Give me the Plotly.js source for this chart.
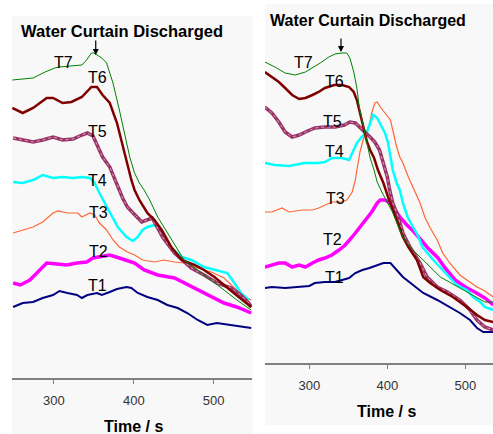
<!DOCTYPE html>
<html>
<head>
<meta charset="utf-8">
<script src="https://cdn.plot.ly/plotly-3.0.1.min.js"></script>
<style>html,body{margin:0;padding:0;background:#fff;}#chart{width:493px;height:434px;}</style>
</head>
<body>
<div id="chart"></div>
<script>
// ---- Data: left panel (temperature traces, arbitrary units vs time / s) ----
const seriesNames = ["T1","T2","T3","T4","T5","T6","T7"];
const tickVals = [300, 400, 500];

const L_T7_t = [248,260,274,289,301,307,322,335,341,347,350,354,360,366,374,382,389,395,401,407,413,420,430,442,455,463,480,497,513,529,544,547];
const L_T7_v = [298,299,300,306,310,311,312,313,318,325,325,323,320,315,295,268,241,221,205,195,188,178,161,145,128,118,108,98,88,78,70,68];
const L_T6_t = [248,261,274,291,299,311,322,335,347,354,361,370,379,385,391,397,401,407,417,426,435,447,460,476,488,501,513,526,536,547];
const L_T6_v = [270,265,270,280,280,275,276,281,291,291,283,275,255,235,218,198,188,178,165,158,148,131,118,113,108,101,93,85,78,71];
const L_T5_t = [249,261,274,286,299,311,324,335,342,349,355,361,370,379,386,392,400,404,410,416,423,428,436,451,472,488,504,522,534,544,547];
const L_T5_v = [240,238,236,238,241,238,239,243,245,242,231,221,211,193,180,171,165,161,156,158,160,153,141,125,110,103,95,90,83,75,71];
const L_T4_t = [249,261,274,286,299,311,324,335,345,351,357,364,370,380,391,399,405,411,417,426,435,447,460,472,488,504,517,526,534,544];
const L_T4_v = [196,195,198,203,200,201,200,201,200,195,185,175,165,151,141,137,141,148,151,153,145,130,121,118,111,108,105,95,85,78];
const L_T3_t = [249,261,274,286,299,305,317,330,335,345,351,357,366,374,382,392,401,411,426,438,451,463,480,497,513,526,538,547];
const L_T3_v = [145,148,151,156,165,167,165,165,161,165,163,155,148,138,131,126,123,118,116,118,116,115,110,106,100,90,81,78];
const L_T2_t = [249,258,270,283,291,304,316,329,341,349,357,370,382,391,401,413,430,451,463,480,497,513,529,544,547];
const L_T2_v = [95,93,98,108,115,114,113,115,116,120,121,123,120,118,115,108,103,100,95,88,81,75,71,66,65];
const L_T1_t = [249,261,274,286,299,307,317,329,335,342,354,360,370,379,391,397,405,417,430,442,455,467,480,492,504,522,534,547];
const L_T1_v = [71,75,76,80,83,87,85,83,80,83,85,83,86,89,91,90,85,81,78,73,70,65,58,53,55,53,51,50];

// ---- Data: right panel ----
const R_T7_t = [243,256,269,282,295,304,314,325,333,342,348,352,357,361,364,369,374,378,383,387,393,400,406,412,420,429,438,451,468,484,502,515,525,536];
const R_T7_v = [301,296,290,288,291,295,300,306,309,310,310,305,291,275,256,238,218,205,193,181,171,161,152,141,126,116,109,99,86,79,71,65,61,61];
const R_T6_t = [243,252,261,269,278,287,295,304,312,320,332,342,351,357,361,365,370,374,378,383,388,395,401,407,414,420,427,438,446,455,468,484,502,515,525,536];
const R_T6_v = [291,286,281,275,268,264,265,268,271,275,278,278,276,271,263,250,233,221,213,205,193,180,166,153,140,126,116,103,86,80,73,66,56,48,43,41];
const R_T5_t = [243,252,261,269,278,287,295,307,320,333,345,352,359,365,371,378,384,390,394,400,403,407,414,420,429,442,451,464,477,493,506,515,525,536];
const R_T5_v = [256,250,241,231,226,228,231,235,236,236,238,241,240,236,231,226,221,213,203,186,173,160,146,130,116,100,86,76,71,63,53,43,36,33];
const R_T4_t = [243,256,274,294,311,320,329,342,351,355,361,367,374,378,382,387,393,397,401,404,407,412,416,420,426,433,440,445,451,459,471,480,489,502,510,519,525,536];
const R_T4_v = [200,198,197,200,200,201,205,205,203,210,220,226,231,240,248,245,236,230,220,206,193,180,173,160,146,136,126,116,110,103,93,86,78,73,66,61,56,53];
const R_T3_t = [243,252,265,274,291,304,312,320,329,342,348,355,359,361,365,370,377,380,384,387,391,397,404,407,412,416,420,427,433,438,442,448,455,464,471,480,493,502,515,523,532,536];
const R_T3_v = [151,151,155,151,153,153,155,158,161,161,163,171,183,193,211,226,238,250,260,261,256,250,243,233,216,206,200,186,176,166,160,146,135,123,110,100,88,83,76,73,68,66];
const R_T2_t = [243,252,261,269,278,287,295,304,312,320,329,338,346,355,364,371,380,387,391,397,404,410,416,425,432,440,446,452,465,474,487,500,512,525,536];
const R_T2_v = [96,98,100,100,96,98,96,100,103,105,108,113,118,126,135,143,151,160,163,163,160,153,146,138,133,126,120,115,105,95,83,76,71,65,58];
const R_T1_t = [243,252,269,282,300,307,320,333,342,351,359,368,377,387,395,404,412,420,433,446,464,480,493,506,515,523,536];
const R_T1_v = [75,76,75,76,77,80,81,81,83,85,90,93,95,98,100,100,93,86,78,70,63,56,50,43,35,31,31];

// Label anchor positions (time, value) for T1..T7
const L_lab_t = [355,356,356,355,354,354,312];
const L_lab_v = [93,126,165,197,246,300,315];
const R_lab_t = [332,330,333,332,330,332,293];
const R_lab_v = [86,123,164,211,241,281,300];

// ---- Styles ----
const styles = {
  T1: {color: "#000080", width: 2},
  T2: {color: "#ff00ff", width: 3.5},
  T3: {color: "#ff6633", width: 1.2},
  T4: {color: "#00ffff", width: 2.5},
  T5: {color: "#993366", width: 3.5},
  T6: {color: "#800000", width: 2.5},
  T7: {color: "#008000", width: 1}
};

const left = {T1:[L_T1_t,L_T1_v],T2:[L_T2_t,L_T2_v],T3:[L_T3_t,L_T3_v],T4:[L_T4_t,L_T4_v],T5:[L_T5_t,L_T5_v],T6:[L_T6_t,L_T6_v],T7:[L_T7_t,L_T7_v]};
const right = {T1:[R_T1_t,R_T1_v],T2:[R_T2_t,R_T2_v],T3:[R_T3_t,R_T3_v],T4:[R_T4_t,R_T4_v],T5:[R_T5_t,R_T5_v],T6:[R_T6_t,R_T6_v],T7:[R_T7_t,R_T7_v]};

const traces = [];
[["x","y",left],["x2","y2",right]].forEach(([xa,ya,d]) => {
  ["T1","T2","T3","T4","T5","T6","T7"].forEach(n => {
    traces.push({type:"scatter", mode:"lines", name:n, x:d[n][0], y:d[n][1], xaxis:xa, yaxis:ya,
      line:{color:styles[n].color, width:styles[n].width, shape:"linear"}, showlegend:false, hoverinfo:"skip"});
    if (n === "T5") {
      // light hatched texture of the T5 line
      traces.push({type:"scatter", mode:"lines", name:n+" texture", x:d[n][0], y:d[n][1], xaxis:xa, yaxis:ya,
        line:{color:"#d9a0c0", width:1, dash:"dot"}, showlegend:false, hoverinfo:"skip"});
    }
  });
});

const W = 493, H = 434;
const px = v => v / W, py = v => (H - v) / H;
const FONT = "Arial, 'Liberation Sans', sans-serif";

const annotations = [];
seriesNames.forEach((n,i) => {
  annotations.push({xref:"x", yref:"y", x:L_lab_t[i], y:L_lab_v[i], text:n, showarrow:false, font:{family:FONT, size:16, color:"#000"}});
  annotations.push({xref:"x2", yref:"y2", x:R_lab_t[i], y:R_lab_v[i], text:n, showarrow:false, font:{family:FONT, size:16, color:"#000"}});
});
annotations.push({xref:"x", yref:"y", x:385, y:347, text:"<b>Water Curtain Discharged</b>", showarrow:false, font:{family:FONT, size:16.5, color:"#000"}});
annotations.push({xref:"x2", yref:"y2", x:375, y:342, text:"<b>Water Curtain Discharged</b>", showarrow:false, font:{family:FONT, size:16, color:"#000"}});
annotations.push({xref:"x", yref:"y", x:352.4, y:323, ax:0, ay:-16, text:"", showarrow:true, arrowhead:2, arrowsize:1, arrowwidth:1.2, arrowcolor:"#000"});
annotations.push({xref:"x2", yref:"y2", x:340.6, y:311, ax:0, ay:-15, text:"", showarrow:true, arrowhead:2, arrowsize:1, arrowwidth:1.2, arrowcolor:"#000"});
annotations.push({xref:"x", yref:"paper", x:400, y:py(426), yanchor:"middle", text:"<b>Time / s</b>", showarrow:false, font:{family:FONT, size:16, color:"#000"}});
annotations.push({xref:"x2", yref:"paper", x:399, y:py(411), yanchor:"middle", text:"<b>Time / s</b>", showarrow:false, font:{family:FONT, size:16, color:"#000"}});

const xCommon = {showline:true, linecolor:"#808080", linewidth:2, ticks:"outside", ticklen:4, tickwidth:1, tickcolor:"#808080",
  tickvals:tickVals, tickfont:{family:FONT, size:13, color:"#333"}, ticklabelstandoff:5, showgrid:false, zeroline:false, fixedrange:true};

const layout = {
  width:W, height:H, margin:{l:0,r:0,t:0,b:0,pad:0},
  paper_bgcolor:"#ffffff", plot_bgcolor:"rgba(0,0,0,0)",
  showlegend:false,
  xaxis: Object.assign({}, xCommon, {domain:[px(12), px(252)], range:[247.6, 548], anchor:"y"}),
  yaxis: {domain:[py(378), py(16)], range:[0,362], visible:false, anchor:"x", fixedrange:true},
  xaxis2: Object.assign({}, xCommon, {domain:[px(265), 1], range:[243.2, 535.5], anchor:"y2"}),
  yaxis2: {domain:[py(363), py(4)], range:[0,359], visible:false, anchor:"x2", fixedrange:true},
  shapes:[
    {type:"rect", xref:"paper", yref:"paper", x0:px(12), x1:px(252.5), y0:0, y1:py(16), fillcolor:"#f8f8f8", line:{width:0}, layer:"below"},
    {type:"rect", xref:"paper", yref:"paper", x0:px(265), x1:1, y0:py(425), y1:py(4), fillcolor:"#f8f8f8", line:{width:0}, layer:"below"}
  ],
  annotations:annotations
};

Plotly.newPlot("chart", traces, layout, {staticPlot:true, displayModeBar:false});
</script>
</body>
</html>
